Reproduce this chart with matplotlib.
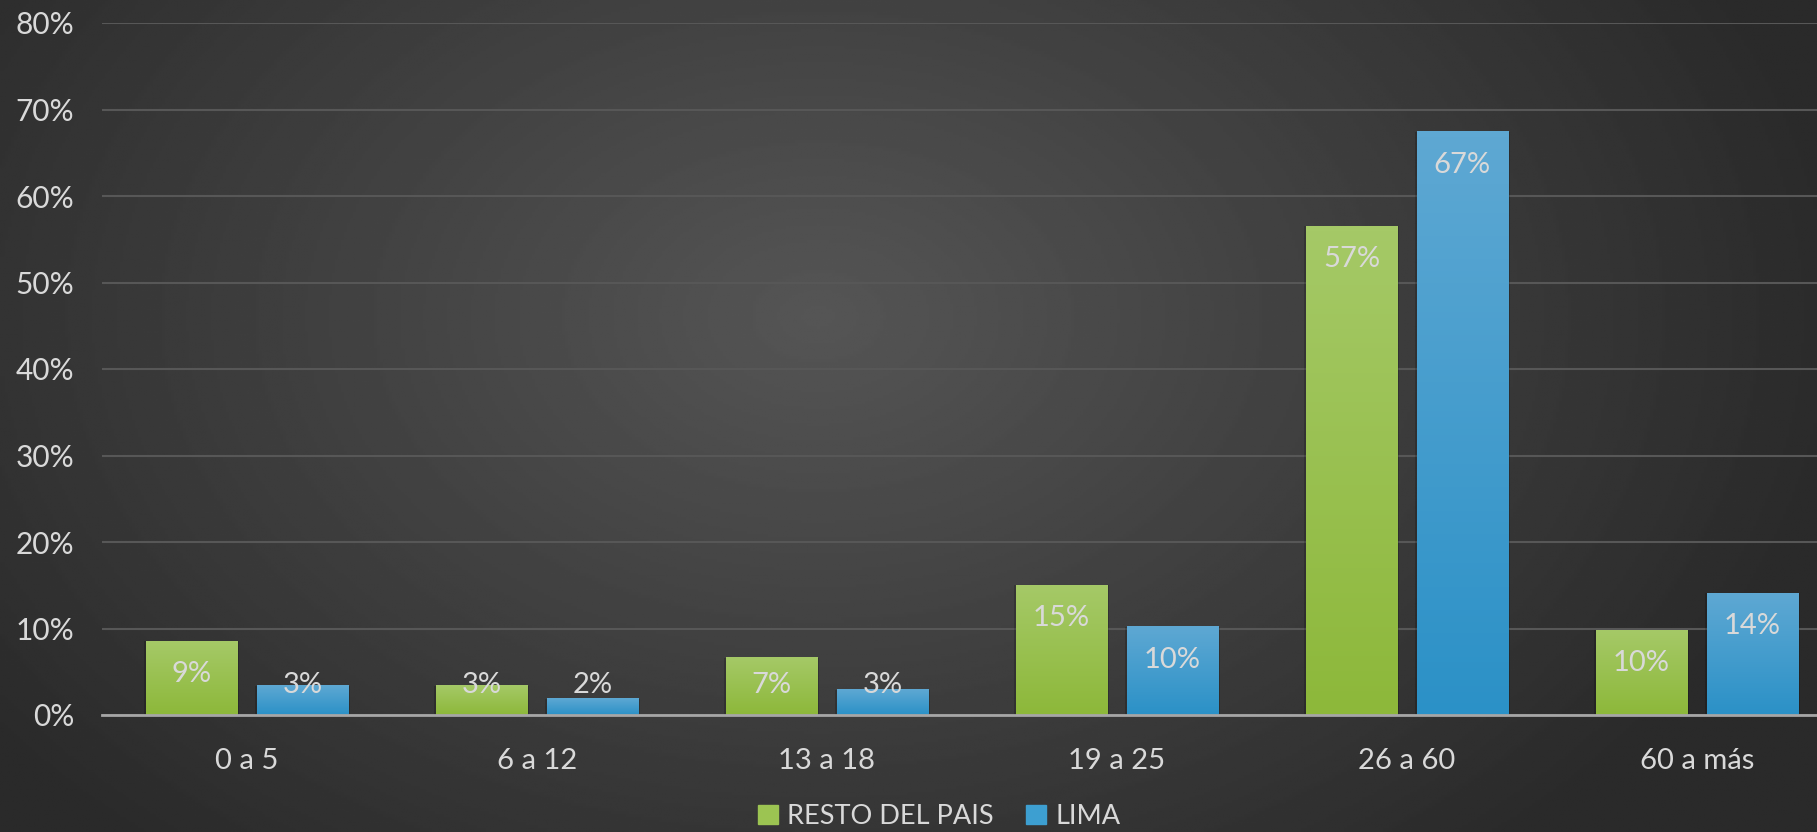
import numpy as np
import matplotlib.pyplot as plt
from matplotlib.colors import LinearSegmentedColormap

# datos -----------------------------
categorias = ['0 a 5', '6 a 12', '13 a 18', '19 a 25', '26 a 60', '60 a más']
resto = [8.5, 3.4, 6.6, 15.0, 56.5, 9.8]
lima = [3.4, 1.9, 2.9, 10.2, 67.4, 14.1]
yticks = [0, 10, 20, 30, 40, 50, 60, 70, 80]

txt = '#d9d9d9'
plt.rcParams['font.family'] = ['Lato', 'DejaVu Sans']

fig = plt.figure(figsize=(18.17, 8.32), dpi=100)

# fondo con degradado radial
bg = fig.add_axes([0, 0, 1, 1], zorder=-10)
yy, xx = np.mgrid[0:1:300j, 0:1:600j]
d = np.sqrt(((xx - 0.45) * 1.5) ** 2 + (yy - 0.38) ** 2)
g = 0.335 - (0.335 - 0.165) * np.clip(d / 0.85, 0, 1)
bg.imshow(g, cmap='gray', vmin=0, vmax=1, aspect='auto', extent=[0, 1, 0, 1], origin='upper')
bg.axis('off')

ax = fig.add_axes([102 / 1817, 117 / 832, 1 - 102 / 1817, 692 / 832])
ax.set_facecolor('none')

x = np.arange(len(categorias))
w = 0.314
off = 0.191
b1 = ax.bar(x - off, resto, w, color='none', zorder=3)
b2 = ax.bar(x + off, lima, w, color='none', zorder=3)

cm_verde = LinearSegmentedColormap.from_list('v', ['#8db83a', '#a5c967'])
cm_azul = LinearSegmentedColormap.from_list('a', ['#2b91c7', '#5ea8d3'])
grad = np.linspace(0, 1, 100).reshape(-1, 1)
for bars, cm in [(b1, cm_verde), (b2, cm_azul)]:
    for p in bars:
        x0, y0 = p.get_x(), p.get_y()
        ww, hh = p.get_width(), p.get_height()
        # sombra
        ax.bar(x0 + ww / 2, hh, ww + 0.012, color='black', alpha=0.18, zorder=2)
        ax.imshow(grad, cmap=cm, aspect='auto', origin='lower',
                  extent=[x0, x0 + ww, y0, y0 + hh], zorder=3)

px = 692 / 80  # pixeles por punto porcentual
for bars, vals in [(b1, resto), (b2, lima)]:
    for p, v in zip(bars, vals):
        yl = max(v - 33 / px, 30 / px)
        ax.text(p.get_x() + p.get_width() / 2, yl, '%d%%' % int(v + 0.5),
                ha='center', va='center', color=txt, fontsize=21, zorder=5)

ax.set_xlim(-0.5, 5.5 - 25 / 290)
ax.set_ylim(0, 80)
ax.set_yticks(yticks)
ax.set_yticklabels(['%d%%' % t for t in yticks])
ax.set_xticks(x)
ax.set_xticklabels(categorias)
ax.tick_params(axis='y', length=0, pad=20, labelsize=21.5, labelcolor=txt)
ax.tick_params(axis='x', length=0, pad=24, labelsize=21, labelcolor=txt)
ax.grid(axis='y', color='#575757', linewidth=1.5, zorder=0)
ax.set_axisbelow(True)
for s in ['top', 'right', 'left']:
    ax.spines[s].set_visible(False)
ax.spines['bottom'].set_color('#a6a6a6')
ax.spines['bottom'].set_linewidth(2)
ax.spines['bottom'].set_zorder(6)

h1 = plt.Rectangle((0, 0), 1, 1, color='#9cc452')
h2 = plt.Rectangle((0, 0), 1, 1, color='#3d9fd1')
leg = fig.legend([h1, h2], ['RESTO DEL PAIS', 'LIMA'], loc='lower center',
                 bbox_to_anchor=(0.517, -0.026), ncol=2, frameon=False, fontsize=19.5,
                 labelcolor=txt, handlelength=0.72, handleheight=0.72,
                 handletextpad=0.35, columnspacing=1.2)

fig.savefig('out.png', dpi=100)
